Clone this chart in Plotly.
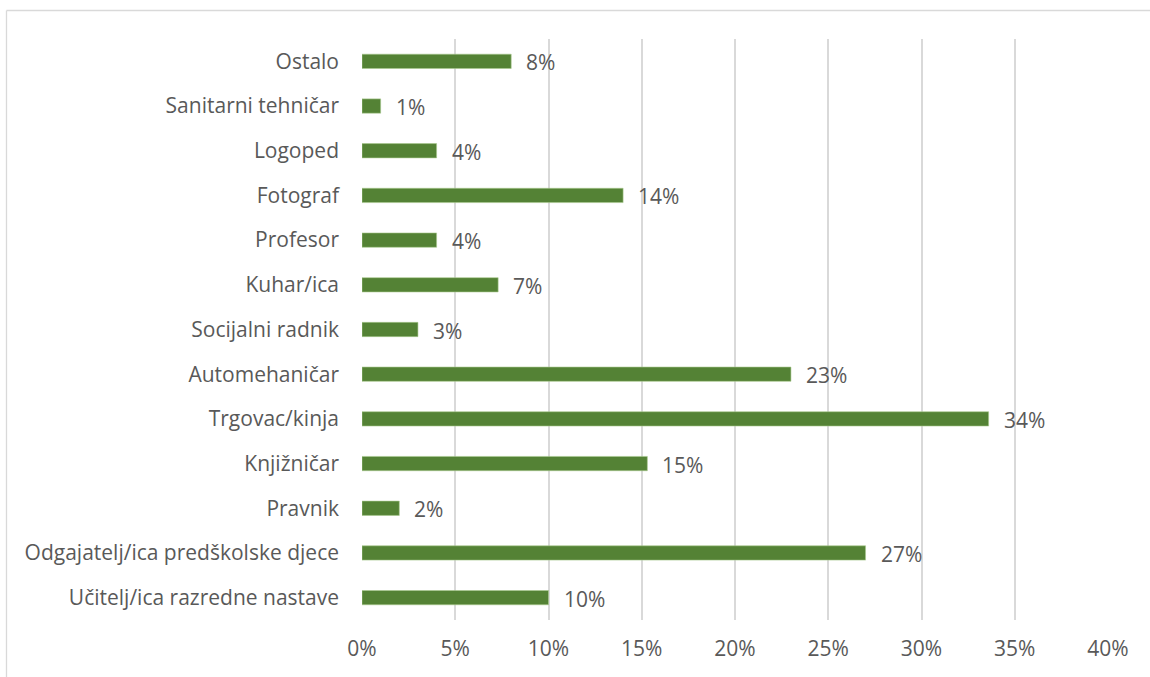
import plotly.graph_objects as go

categories = [
    "Učitelj/ica razredne nastave",
    "Odgajatelj/ica predškolske djece",
    "Pravnik",
    "Knjižničar",
    "Trgovac/kinja",
    "Automehaničar",
    "Socijalni radnik",
    "Kuhar/ica",
    "Profesor",
    "Fotograf",
    "Logoped",
    "Sanitarni tehničar",
    "Ostalo",
]
values = [0.10, 0.27, 0.02, 0.153, 0.336, 0.23, 0.03, 0.073, 0.04, 0.14, 0.04, 0.01, 0.08]
tick_vals = [0, 0.05, 0.10, 0.15, 0.20, 0.25, 0.30, 0.35, 0.40]
tick_text = ["0%", "5%", "10%", "15%", "20%", "25%", "30%", "35%", "40%"]

FONT = "'Open Sans', sans-serif"
TXT = "#595959"
FS = 21

fig = go.Figure()
fig.add_trace(go.Bar(
    x=values, y=categories, orientation="h",
    marker=dict(color="#548235", line=dict(color="#a9c98f", width=0.6)),
    width=0.32, hoverinfo="skip",
))

for v, c in zip(values, categories):
    fig.add_annotation(
        x=v, y=c, xref="x", yref="y", text=f"{round(v*100)}%",
        showarrow=False, xanchor="left", yanchor="middle", xshift=13, yshift=-1,
        font=dict(family=FONT, size=FS, color=TXT),
    )

W, H = 1150, 677
L, R, T, B = 362, 42, 39, 57
pw, ph = W - L - R, H - T - B
# outer chart border (top and left edges visible)
fig.add_shape(type="line", xref="paper", yref="paper",
              x0=(6.5 - L) / pw, x1=(W - L) / pw, y0=1 + (T - 10.5) / ph, y1=1 + (T - 10.5) / ph,
              line=dict(color="#d9d9d9", width=1.3))
fig.add_shape(type="line", xref="paper", yref="paper",
              x0=(6.5 - L) / pw, x1=(6.5 - L) / pw, y0=1 + (T - 10.5) / ph, y1=-(B) / ph,
              line=dict(color="#d9d9d9", width=1.3))

fig.update_layout(
    width=W, height=H,
    margin=dict(l=L, r=R, t=T, b=B),
    plot_bgcolor="white", paper_bgcolor="white",
    showlegend=False,
    font=dict(family=FONT, size=FS, color=TXT),
    xaxis=dict(range=[0, 0.40], tickvals=tick_vals, ticktext=tick_text,
               showgrid=True, gridcolor="#d9d9d9", gridwidth=2,
               zeroline=False, showline=False, ticks="",
               tickfont=dict(family=FONT, size=FS, color=TXT), ticklabelstandoff=14),
    yaxis=dict(categoryorder="array", categoryarray=categories,
               range=[-0.5, len(categories) - 0.5],
               showgrid=False, zeroline=False, showline=False, ticks="",
               tickfont=dict(family=FONT, size=FS, color=TXT), ticklabelstandoff=22),
    bargap=0.68,
)

fig.write_html("out.html", config={"displayModeBar": False},
               post_script="document.body.style.margin='0';document.body.style.overflow='hidden';")
